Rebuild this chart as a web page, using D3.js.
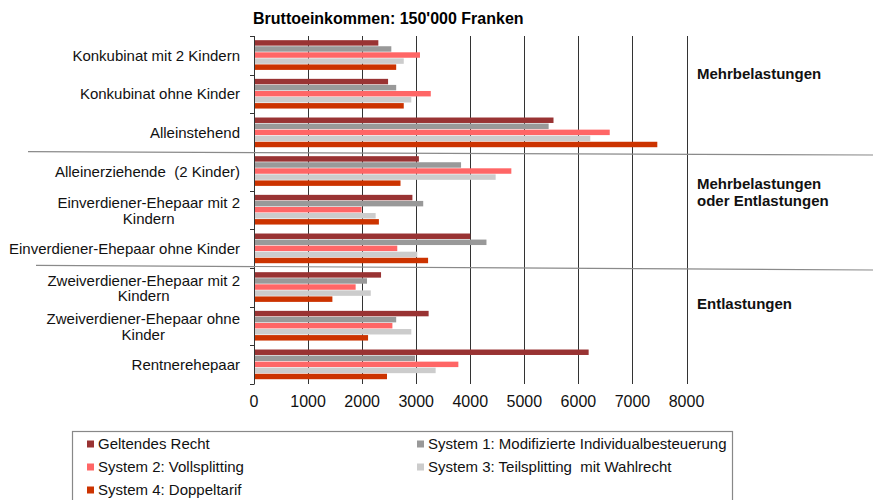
<!DOCTYPE html>
<html>
<head>
<meta charset="utf-8">
<script src="https://cdn.jsdelivr.net/npm/d3@7"></script>
<style>
  body { margin: 0; background: #fff; }
  svg { display: block; font-family: "Liberation Sans", Arial, sans-serif; }
  text { white-space: pre; }
</style>
</head>
<body>
<svg id="chart" width="879" height="500"></svg>
<script>
// --- Data ---
const categories = [
    ["Konkubinat mit 2 Kindern"],
    ["Konkubinat ohne Kinder"],
    ["Alleinstehend"],
    ["Alleinerziehende  (2 Kinder)"],
    ["Einverdiener-Ehepaar mit 2", "Kindern"],
    ["Einverdiener-Ehepaar ohne Kinder"],
    ["Zweiverdiener-Ehepaar mit 2", "Kindern"],
    ["Zweiverdiener-Ehepaar ohne", "Kinder"],
    ["Rentnerehepaar"]
];
const seriesNames = [
    "Geltendes Recht",
    "System 1: Modifizierte Individualbesteuerung",
    "System 2: Vollsplitting",
    "System 3: Teilsplitting  mit Wahlrecht",
    "System 4: Doppeltarif"
];
const seriesColors = ["#993333", "#999999", "#ff6666", "#cccccc", "#cc3300"];

// one array per series, in category order
const geltendesRecht = [2300, 2480, 5540, 3050, 2930, 4000, 2350, 3230, 6190];
const system1 = [2540, 2630, 5450, 3830, 3130, 4300, 2090, 2630, 2980];
const system2 = [3070, 3270, 6580, 4760, 1990, 2650, 1880, 2560, 3780];
const system3 = [2770, 2910, 6220, 4470, 2250, 3020, 2160, 2910, 3360];
const system4 = [2630, 2770, 7460, 2710, 2310, 3220, 1450, 2110, 2460];
const seriesValues = [geltendesRecht, system1, system2, system3, system4];

const xTicks = [0, 1000, 2000, 3000, 4000, 5000, 6000, 7000, 8000];
const title = "Bruttoeinkommen: 150'000 Franken";
const groupLabels = [
    { lines: ["Mehrbelastungen"], from: 0, to: 3 },
    { lines: ["Mehrbelastungen", "oder Entlastungen"], from: 3, to: 6 },
    { lines: ["Entlastungen"], from: 6, to: 9 }
];

// --- Layout ---
const svg = d3.select("#chart");
const plot = { left: 254, right: 686.5, top: 36, bottom: 384 };

const x = d3.scaleLinear().domain([0, 8000]).range([plot.left, plot.right]);
const y = d3.scaleBand().domain(d3.range(categories.length)).range([plot.top, plot.bottom]);
const ySeries = d3.scaleBand().domain(d3.range(seriesNames.length))
    .range([0, y.bandwidth()]).paddingOuter(0.69);

// title
svg.append("text")
    .attr("x", 253).attr("y", 24)
    .attr("font-size", 16).attr("font-weight", "bold")
    .text(title);

// vertical grid lines
svg.append("g").selectAll("line")
    .data(xTicks.slice(1))
    .join("line")
    .attr("x1", d => Math.round(x(d)) + 0.5).attr("x2", d => Math.round(x(d)) + 0.5)
    .attr("y1", plot.top).attr("y2", plot.bottom)
    .attr("stroke", "#333").attr("stroke-width", 1);

// bars
const groups = svg.append("g").selectAll("g")
    .data(categories)
    .join("g")
    .attr("transform", (d, i) => `translate(0,${y(i)})`);

groups.selectAll("rect")
    .data((d, i) => seriesValues.map((vals, s) => ({ s, v: vals[i] })))
    .join("rect")
    .attr("x", x(0))
    .attr("y", d => ySeries(d.s))
    .attr("width", d => x(d.v) - x(0))
    .attr("height", ySeries.bandwidth() - 0.6)
    .attr("fill", d => seriesColors[d.s]);

// y axis with band ticks
const yAxis = svg.append("g");
yAxis.append("line")
    .attr("x1", plot.left + 0.5).attr("x2", plot.left + 0.5)
    .attr("y1", plot.top).attr("y2", plot.bottom)
    .attr("stroke", "#333");
yAxis.selectAll("line.tick")
    .data(d3.range(categories.length + 1))
    .join("line")
    .attr("class", "tick")
    .attr("x1", plot.left - 4).attr("x2", plot.left + 0.5)
    .attr("y1", i => Math.round(plot.top + i * y.step()) + 0.5)
    .attr("y2", i => Math.round(plot.top + i * y.step()) + 0.5)
    .attr("stroke", "#333");

// category labels (multi-line labels centred on their longest line, block right aligned)
groups.each(function (lines, i) {
    const g = d3.select(this);
    const cy = y.bandwidth() / 2;
    const t = g.append("text").attr("font-size", 15).attr("fill", "#111");
    if (lines.length === 1) {
        t.attr("x", 240).attr("y", cy + 5.4).attr("text-anchor", "end").text(lines[0]);
    } else {
        t.attr("text-anchor", "middle");
        const spans = lines.map((l, k) => t.append("tspan").attr("y", cy + 5.4 - 7 + k * 15.5).text(l));
        const w = d3.max(spans, s => s.node().getComputedTextLength());
        spans.forEach(s => s.attr("x", 240 - w / 2));
    }
});

// x tick labels
svg.append("g").selectAll("text")
    .data(xTicks)
    .join("text")
    .attr("x", d => x(d)).attr("y", 407)
    .attr("text-anchor", "middle")
    .attr("font-size", 16).attr("fill", "#111")
    .text(d => d);

// group separators
const sepOffsets = [[-0.3, 3, 28], [-2.7, 2, 36]];
[3, 6].forEach((b, k) => {
    const yb = plot.top + b * y.step();
    svg.append("line")
        .attr("x1", sepOffsets[k][2]).attr("x2", 873)
        .attr("y1", yb + sepOffsets[k][0]).attr("y2", yb + sepOffsets[k][1])
        .attr("stroke", "#8a8a8a").attr("stroke-width", 1.2);
});

// group annotations on the right (baseline offsets from the group's middle)
const annotOffsets = [-15, -21, -17];
groupLabels.forEach((gl, gi) => {
    const mid = plot.top + (gl.from + gl.to) / 2 * y.step();
    const t = svg.append("text").attr("font-size", 15).attr("font-weight", "bold").attr("fill", "#111");
    gl.lines.forEach((l, k) => t.append("tspan").attr("x", 697).attr("y", mid + annotOffsets[gi] + k * 16.5).text(l));
});

// legend
const legend = svg.append("g");
legend.append("rect")
    .attr("x", 72.5).attr("y", 431.5).attr("width", 660).attr("height", 80)
    .attr("fill", "none").attr("stroke", "#888").attr("stroke-width", 1.2);
const legendItems = legend.selectAll("g")
    .data(seriesNames)
    .join("g")
    .attr("transform", (d, i) => `translate(${i % 2 === 0 ? 87 : 417},${444 + Math.floor(i / 2) * 23})`);
legendItems.append("rect")
    .attr("x", 0).attr("y", -3.5).attr("width", 7).attr("height", 7)
    .attr("fill", (d, i) => seriesColors[i]);
legendItems.append("text")
    .attr("x", 11).attr("y", 5.4)
    .attr("font-size", 15).attr("fill", "#111")
    .text(d => d);
</script>
</body>
</html>
